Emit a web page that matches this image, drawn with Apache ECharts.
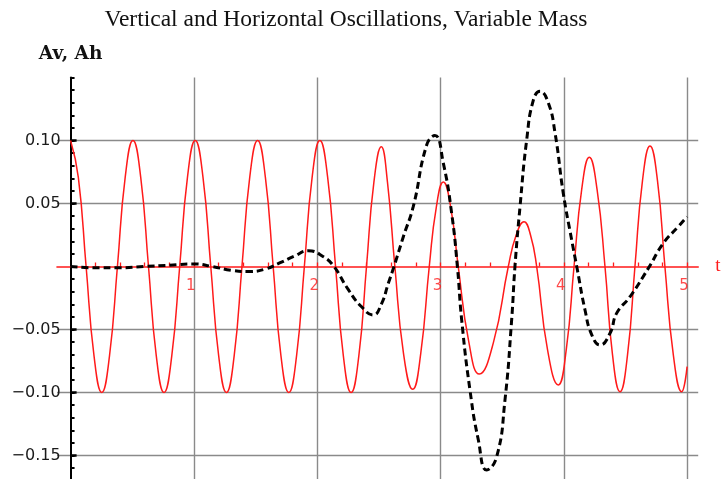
<!DOCTYPE html>
<html><head><meta charset="utf-8">
<script src="https://cdn.jsdelivr.net/npm/echarts@6/dist/echarts.min.js"></script>
<style>html,body{margin:0;padding:0;background:#fff}#c{width:723px;height:479px}</style>
</head><body><div id="c"></div>
<script>
const titleText = 'Vertical and Horizontal Oscillations, Variable Mass';
const yName = 'Av, Ah';
const xName = 't';

// Vertical oscillation (red) [t, value]
const verticalOsc = [
 [0,0.100],[0.063,0.0707],[0.126,0],[0.190,-0.0707],[0.253,-0.100],[0.316,-0.0707],[0.380,0],[0.443,0.0707],
 [0.506,0.100],[0.569,0.0707],[0.632,0],[0.695,-0.0707],[0.758,-0.100],[0.821,-0.0707],[0.885,0],[0.948,0.0707],
 [1.011,0.100],[1.074,0.0707],[1.137,0],[1.201,-0.0707],[1.264,-0.100],[1.327,-0.0707],[1.390,0],[1.453,0.0707],
 [1.517,0.100],[1.580,0.0707],[1.643,0],[1.706,-0.0707],[1.770,-0.100],[1.833,-0.0707],[1.896,0],[1.959,0.0707],
 [2.022,0.100],[2.085,0.0707],[2.149,0],[2.212,-0.0707],[2.275,-0.100],[2.338,-0.0707],[2.400,0],[2.460,0.067],
 [2.520,0.095],[2.570,0.067],[2.630,0],[2.700,-0.069],[2.775,-0.0975],[2.840,-0.069],[2.909,0],[2.966,0.047],
 [3.023,0.067],[3.083,0.047],[3.144,0],[3.230,-0.060],[3.315,-0.0853],[3.430,-0.060],[3.550,0],[3.614,0.025],
 [3.677,0.0356],[3.730,0.025],[3.780,0],[3.868,-0.066],[3.955,-0.094],[4.020,-0.066],[4.083,0],[4.145,0.061],
 [4.207,0.0867],[4.270,0.061],[4.334,0],[4.395,-0.070],[4.456,-0.0994],[4.517,-0.070],[4.577,0],[4.638,0.068],
 [4.699,0.0956],[4.760,0.068],[4.820,0],[4.888,-0.070],[4.956,-0.0994],[5.000,-0.0795]
];

// Horizontal oscillation (black dashed) [t, value]
const horizontalOsc = [
 [0,0],[0.2,-0.001],[0.4,-0.001],[0.6,0.0],[0.8,0.001],[1.0,0.002],[1.15,0.0],[1.3,-0.003],[1.45,-0.004],
 [1.58,-0.002],[1.7,0.003],[1.81,0.008],[1.93,0.0125],[2.05,0.0078],[2.136,0],[2.25,-0.018],[2.36,-0.032],
 [2.455,-0.0385],[2.52,-0.030],[2.577,-0.0133],[2.623,0],[2.70,0.024],[2.779,0.0475],[2.888,0.0964],
 [2.955,0.104],[3.023,0.082],[3.091,0.042],[3.137,0],[3.172,-0.0425],[3.239,-0.098],[3.307,-0.1377],
 [3.375,-0.1615],[3.456,-0.151],[3.523,-0.106],[3.577,-0.0425],[3.604,0],[3.645,0.0475],[3.699,0.1004],
 [3.753,0.132],[3.807,0.139],[3.874,0.13],[3.929,0.106],[3.996,0.058],[4.064,0.021],[4.105,0],
 [4.172,-0.0345],[4.226,-0.054],[4.294,-0.0623],[4.375,-0.053],[4.429,-0.037],[4.537,-0.024],
 [4.685,-0.0015],[4.807,0.0184],[4.928,0.0316],[5.0,0.0395]
];

const xLabelValues = [1,2,3,4,5];
const xGridValues = [1,2,3,4,5];
const xTickValues = [0.2,0.4,0.6,0.8,1,1.2,1.4,1.6,1.8,2,2.2,2.4,2.6,2.8,3,3.2,3.4,3.6,3.8,4,4.2,4.4,4.6,4.8,5];
const yLabelValues = [-0.15,-0.1,-0.05,0.05,0.1];
const yGridValues = [-0.15,-0.1,-0.05,0.05,0.1];
const xRange = [-0.11, 5.09];
const yRange = [-0.17, 0.15];

const chart = echarts.init(document.getElementById('c'), null, {renderer:'canvas'});
const gridStyle = {color:'#8a8a8a', width:1.4, type:'solid'};
const fmtY = v => (v < 0 ? '\u2212' : '') + Math.abs(v).toFixed(2);
const red = '#ff1a1a';

chart.setOption({
  animation:false,
  backgroundColor:'#fff',
  title:{text:titleText, left:341, textAlign:'center', top:3,
    textStyle:{fontFamily:'Liberation Serif', fontSize:23.5, fontWeight:'normal', color:'#111'}},
  grid:{left:57, right:24.8, top:77.5, bottom:-1.7, containLabel:false, outerBoundsMode:'none'},
  xAxis:[{
    type:'value', min:xRange[0], max:xRange[1], z:1,
    name:xName, nameLocation:'end', nameGap:17,
    nameTextStyle:{color:red, fontFamily:'Liberation Serif', fontSize:19, verticalAlign:'middle'},
    axisLine:{onZero:true, lineStyle:{color:red, width:1.6}},
    axisTick:{show:true, inside:true, length:4, customValues:xTickValues, lineStyle:{color:red, width:1.3}},
    axisLabel:{show:false},
    splitLine:{show:false}
  }],
  yAxis:[{
    type:'value', position:'left', min:yRange[0], max:yRange[1], interval:0.01, z:1,
    name:yName, nameLocation:'end', nameGap:14,
    nameTextStyle:{color:'#111', fontFamily:'DejaVu Serif', fontSize:18.5, fontWeight:'bold', align:'center'},
    axisLine:{show:true, onZero:true, lineStyle:{color:'#000', width:2}},
    axisTick:{show:true, inside:true, length:4, lineStyle:{color:'#000', width:2}},
    axisLabel:{show:false},
    splitLine:{show:false}
  },{
    type:'value', position:'left', offset:-13.6, min:yRange[0], max:yRange[1], z:1,
    axisLine:{show:false, onZero:false},
    axisTick:{show:true, inside:true, length:6, customValues:yLabelValues, lineStyle:{color:'#000', width:2.5}},
    axisLabel:{show:true, customValues:yLabelValues, formatter:fmtY, color:'#1a1a1a', fontFamily:'DejaVu Sans', fontSize:16, margin:10},
    splitLine:{show:false}
  }],
  series:[
    {type:'line', data:[[0,0]], z:0, showSymbol:false, lineStyle:{opacity:0}, silent:true,
     markLine:{silent:true, z:0, symbol:['none','none'], label:{show:false}, lineStyle:gridStyle,
       data: xGridValues.map(v => ({xAxis:v})).concat(yGridValues.map(v => ({yAxis:v})))}},
    {type:'scatter', data:xLabelValues.map(v => [v, 0]), symbolSize:0, silent:true, z:1,
     label:{show:true, position:'bottom', distance:12, offset:[-3,0], formatter:p => String(p.value[0]),
       color:red, fontFamily:'DejaVu Sans', fontSize:15}},
    {name:'Av', type:'line', data:verticalOsc, smooth:true, showSymbol:false, z:2,
     lineStyle:{color:red, width:1.5}},
    {name:'Ah', type:'line', data:horizontalOsc, smooth:true, showSymbol:false, z:3,
     lineStyle:{color:'#000', width:3, type:[7,4]}}
  ]
});
</script></body></html>
